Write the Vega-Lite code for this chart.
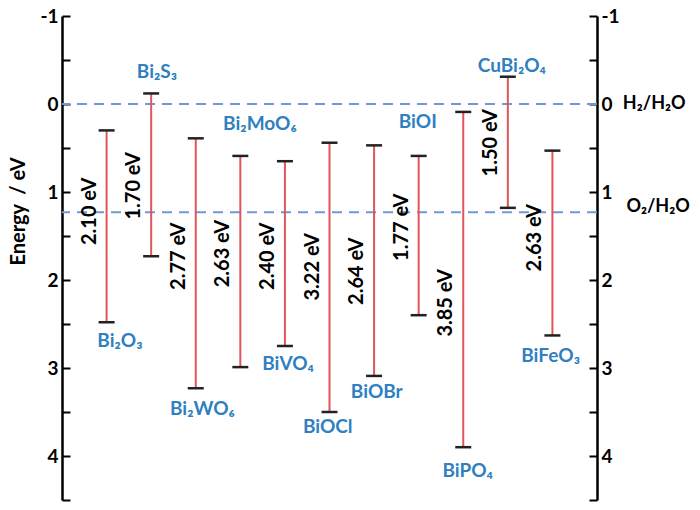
{
  "$schema": "https://vega.github.io/schema/vega-lite/v6.json",
  "autosize": {"type": "none"},
  "width": 535,
  "height": 484,
  "padding": {"left": 62, "top": 16, "right": 103, "bottom": 10},
  "background": "white",
  "config": {"view": {"stroke": null}, "text": {"font": "Lato"}},
  "datasets": {
    "bars": [
      {"name": "Bi₂O₃", "i": 1, "cb": 0.30, "vb": 2.48, "gap": "2.10 eV", "ly": 1.22, "nx": 1.30, "ny": 2.69},
      {"name": "Bi₂S₃", "i": 2, "cb": -0.12, "vb": 1.73, "gap": "1.70 eV", "ly": 0.93, "nx": 2.13, "ny": -0.36},
      {"name": "Bi₂WO₆", "i": 3, "cb": 0.39, "vb": 3.23, "gap": "2.77 eV", "ly": 1.73, "nx": 3.15, "ny": 3.47},
      {"name": "Bi₂MoO₆", "i": 4, "cb": 0.59, "vb": 2.99, "gap": "2.63 eV", "ly": 1.70, "nx": 4.44, "ny": 0.23},
      {"name": "BiVO₄", "i": 5, "cb": 0.65, "vb": 2.75, "gap": "2.40 eV", "ly": 1.73, "nx": 5.07, "ny": 2.95},
      {"name": "BiOCl", "i": 6, "cb": 0.44, "vb": 3.50, "gap": "3.22 eV", "ly": 1.85, "nx": 5.96, "ny": 3.67},
      {"name": "BiOBr", "i": 7, "cb": 0.47, "vb": 3.09, "gap": "2.64 eV", "ly": 1.90, "nx": 7.06, "ny": 3.27},
      {"name": "BiOI", "i": 8, "cb": 0.59, "vb": 2.40, "gap": "1.77 eV", "ly": 1.40, "nx": 7.98, "ny": 0.20},
      {"name": "BiPO₄", "i": 9, "cb": 0.09, "vb": 3.90, "gap": "3.85 eV", "ly": 2.26, "nx": 9.10, "ny": 4.17},
      {"name": "CuBi₂O₄", "i": 10, "cb": -0.31, "vb": 1.18, "gap": "1.50 eV", "ly": 0.44, "nx": 10.09, "ny": -0.43},
      {"name": "BiFeO₃", "i": 11, "cb": 0.53, "vb": 2.63, "gap": "2.63 eV", "ly": 1.52, "nx": 10.96, "ny": 2.86}
    ],
    "refs": [
      {"pot": 0, "label": "H₂/H₂O", "lx": 12.58, "ly": 0},
      {"pot": 1.23, "label": "O₂/H₂O", "lx": 12.66, "ly": 1.17}
    ]
  },
  "layer": [
    {
      "layer": [
        {
          "data": {"name": "refs"},
          "mark": {"type": "rule", "color": "#6b9bd1", "strokeWidth": 2, "strokeDash": [10, 7]},
          "encoding": {
            "y": {"field": "pot", "type": "quantitative", "scale": {"domain": [-1, 4.5], "reverse": true, "nice": false, "zero": false},
              "axis": {
                "values": [-1, -0.5, 0, 0.5, 1, 1.5, 2, 2.5, 3, 3.5, 4, 4.5],
                "labelExpr": "datum.value % 1 === 0 ? '' + datum.value : ''",
                "tickSize": -8,
                "tickColor": "black", "tickWidth": 2,
                "domainColor": "black", "domainWidth": 2.5,
                "grid": false,
                "labelFont": "Lato", "labelFontSize": 19, "labelFontWeight": "bold", "labelColor": "black",
                "labelPadding": 12,
                "title": "Energy \u00a0/ eV",
                "titleFont": "Lato", "titleFontSize": 20, "titleFontWeight": "bold", "titleColor": "black",
                "titleX": -44, "titleY": 195, "titleAngle": -90, "titleAlign": "center", "titleBaseline": "middle"
              }
            }
          }
        },
        {
          "data": {"name": "refs"},
          "mark": {"type": "text", "align": "left", "baseline": "middle", "fontSize": 18, "fontWeight": "bold", "color": "black", "clip": false},
          "encoding": {
            "x": {"field": "lx", "type": "quantitative", "scale": {"domain": [0, 12], "nice": false, "zero": false}, "axis": null},
            "y": {"field": "ly", "type": "quantitative"},
            "text": {"field": "label"}
          }
        },
        {
          "data": {"name": "bars"},
          "mark": {"type": "rule", "color": "#e0555a", "strokeWidth": 2},
          "encoding": {
            "x": {"field": "i", "type": "quantitative"},
            "y": {"field": "cb", "type": "quantitative"},
            "y2": {"field": "vb"}
          }
        },
        {
          "data": {"name": "bars"},
          "mark": {"type": "tick", "orient": "horizontal", "color": "#222222", "size": 16, "thickness": 2.5, "opacity": 1},
          "encoding": {
            "x": {"field": "i", "type": "quantitative"},
            "y": {"field": "cb", "type": "quantitative"}
          }
        },
        {
          "data": {"name": "bars"},
          "mark": {"type": "tick", "orient": "horizontal", "color": "#222222", "size": 16, "thickness": 2.5, "opacity": 1},
          "encoding": {
            "x": {"field": "i", "type": "quantitative"},
            "y": {"field": "vb", "type": "quantitative"}
          }
        },
        {
          "data": {"name": "bars"},
          "mark": {"type": "text", "angle": 270, "align": "center", "baseline": "middle", "dy": -17, "fontSize": 20, "fontWeight": "bold", "color": "black"},
          "encoding": {
            "x": {"field": "i", "type": "quantitative"},
            "y": {"field": "ly", "type": "quantitative"},
            "text": {"field": "gap"}
          }
        },
        {
          "data": {"name": "bars"},
          "mark": {"type": "text", "align": "center", "baseline": "middle", "fontSize": 19, "fontWeight": "bold", "color": "#2f7fc1"},
          "encoding": {
            "x": {"field": "nx", "type": "quantitative"},
            "y": {"field": "ny", "type": "quantitative"},
            "text": {"field": "name"}
          }
        }
      ]
    },
    {
      "data": {"name": "refs"},
      "mark": {"type": "rule", "opacity": 0},
      "encoding": {
        "y": {"field": "pot", "type": "quantitative", "scale": {"domain": [-1, 4.5], "reverse": true, "nice": false, "zero": false},
          "axis": {
            "orient": "right",
            "values": [-1, -0.5, 0, 0.5, 1, 1.5, 2, 2.5, 3, 3.5, 4, 4.5],
            "labelExpr": "datum.value % 1 === 0 ? '' + datum.value : ''",
            "tickSize": -8,
            "tickColor": "black", "tickWidth": 2,
            "domainColor": "black", "domainWidth": 2.5,
            "grid": false,
            "labelFont": "Lato", "labelFontSize": 19, "labelFontWeight": "bold", "labelColor": "black",
            "labelPadding": 12,
            "title": null
          }
        }
      }
    }
  ],
  "resolve": {"scale": {"y": "independent"}}
}
